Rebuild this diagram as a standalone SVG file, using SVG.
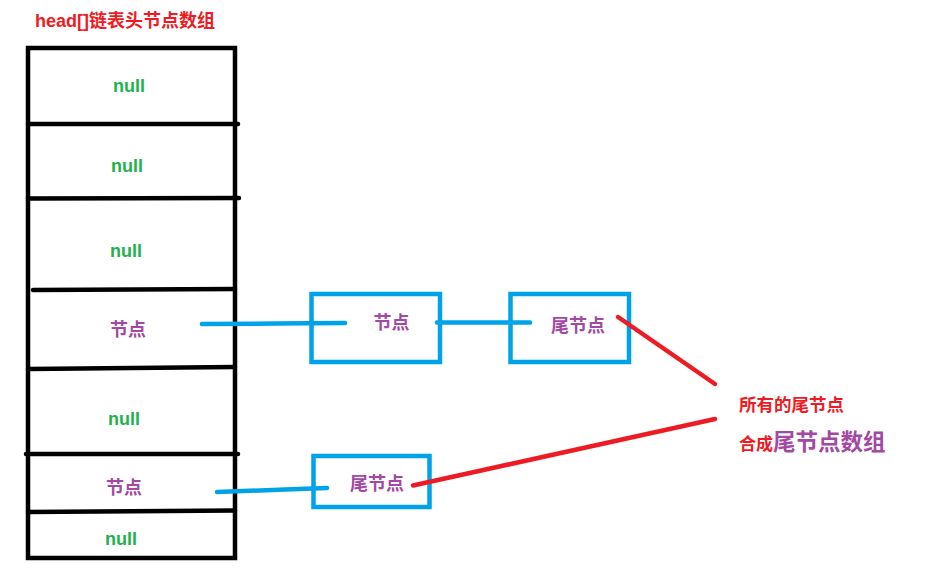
<svg xmlns="http://www.w3.org/2000/svg" width="933" height="586" viewBox="0 0 933 586">
<style>
text{font-family:"Liberation Sans","Noto Sans CJK SC",sans-serif;font-weight:bold}
.red{fill:#ed1c24}
.pur{fill:#a349a4}
.grn{fill:#22b14c}
.blk{stroke:#000;stroke-width:4.5;stroke-linecap:round;fill:none}
.box{stroke:#00a2e8;stroke-width:4.5;fill:none}
.bl{stroke:#00a2e8;stroke-width:4.5;stroke-linecap:round;fill:none}
.rl{stroke:#ed1c24;stroke-width:4.5;stroke-linecap:round;fill:none}
</style>
<rect width="933" height="586" fill="#fff"/>
<g id="title"><text x="35" y="27" font-size="18" class="red">head[]链表头节点数组</text></g>
<g id="array">
<path class="blk" d="M28 48 H235 V558 H28 Z"/>
<line class="blk" x1="28" y1="124" x2="238" y2="124"/>
<line class="blk" x1="28" y1="198.5" x2="239" y2="198"/>
<line class="blk" x1="33" y1="290" x2="235" y2="289"/>
<line class="blk" x1="28" y1="369" x2="235" y2="367"/>
<line class="blk" x1="26" y1="454" x2="238" y2="454"/>
<line class="blk" x1="28" y1="512" x2="235" y2="510.5"/>
</g>
<g id="cell0"><text x="129" y="92" font-size="18" text-anchor="middle" class="grn">null</text></g>
<g id="cell1"><text x="127" y="172" font-size="18" text-anchor="middle" class="grn">null</text></g>
<g id="cell2"><text x="126" y="257" font-size="18" text-anchor="middle" class="grn">null</text></g>
<g id="cell3"><text x="128" y="336" font-size="18" text-anchor="middle" class="pur">节点</text></g>
<g id="cell4"><text x="124" y="425" font-size="18" text-anchor="middle" class="grn">null</text></g>
<g id="cell5"><text x="124" y="494" font-size="18" text-anchor="middle" class="pur">节点</text></g>
<g id="cell6"><text x="121" y="545" font-size="18" text-anchor="middle" class="grn">null</text></g>
<g id="node1"><rect class="box" x="311.5" y="294" width="128.5" height="68"/><text x="391.5" y="329" font-size="18" text-anchor="middle" class="pur">节点</text></g>
<g id="node2"><rect class="box" x="510.5" y="294" width="118.5" height="68"/><text x="578" y="332" font-size="18" text-anchor="middle" class="pur">尾节点</text></g>
<g id="node3"><rect class="box" x="313.5" y="456" width="116" height="51"/><text x="377" y="490" font-size="18" text-anchor="middle" class="pur">尾节点</text></g>
<g id="note"><text x="739" y="411" font-size="17.5" class="red">所有的尾节点</text><text x="739" y="450" font-size="17" class="red">合成<tspan font-size="22.5" class="pur">尾节点数组</tspan></text></g>
<g id="connectors">
<polyline class="bl" points="202,324 275,323.5 345,323"/>
<line class="bl" x1="437" y1="322.5" x2="530" y2="322.5"/>
<polyline class="bl" points="217,492 285,489.5 327,488"/>
<line class="rl" x1="618" y1="317" x2="715" y2="384"/>
<line class="rl" x1="413" y1="485.5" x2="715" y2="419"/>
</g>
</svg>
